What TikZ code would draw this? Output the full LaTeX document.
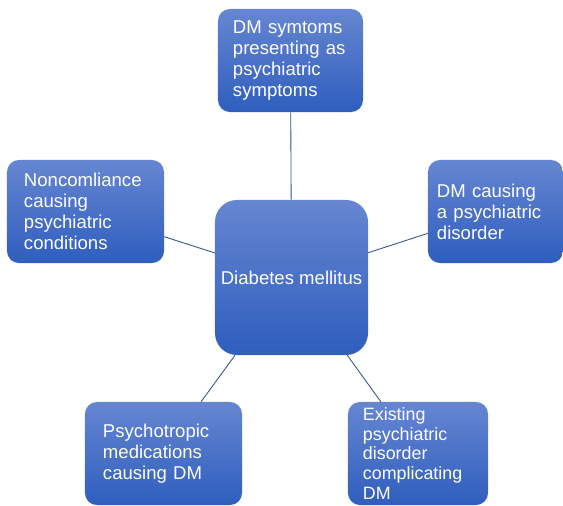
\documentclass[tikz,border=0pt]{standalone}
\usepackage{fontspec}
\setmainfont{Liberation Sans}
\usepackage{xcolor}
\usetikzlibrary{positioning}
\definecolor{boxtop}{HTML}{6686D1}
\definecolor{boxbot}{HTML}{2F5EBE}
\definecolor{linkblue}{HTML}{2E4E8E}

\begin{document}
\begin{tikzpicture}[
  x=0.025cm, y=-0.025cm,
  every node/.style={font=\fontsize{13.2}{15}\selectfont},
  box/.style ={rounded corners=0.3cm, top color=boxtop, bottom color=boxbot,
               draw=none, text=white, align=left, inner sep=0pt,
               minimum height=2.575cm},
  hub/.style ={box, rounded corners=0.55cm,
               minimum width=3.825cm, minimum height=3.875cm},
  link/.style={draw=linkblue, line width=0.6pt}
]
\useasboundingbox (0,0) rectangle (563,505);

%% ─── centre ────────────────────────────────────────────────────────────────
\node[hub] (dm) at (291.5,277.5) {Diabetes mellitus};

%% ─── outer boxes ───────────────────────────────────────────────────────────
\node[box,text width=2.875cm,inner xsep=0.375cm] (sym) at (290.5,60.5)
  {DM symtoms\\presenting as\\psychiatric\\symptoms};
\node[box,text width=3.075cm,inner xsep=0.425cm] (non) at (85.5,211.5)
  {Noncomliance\\causing\\psychiatric\\conditions};
\node[box,text width=2.925cm,inner xsep=0.225cm] (cau) at (495.5,211.5)
  {DM causing\\a psychiatric\\disorder};
\node[box,text width=3.025cm,inner xsep=0.45cm]  (med) at (163.5,453.5)
  {Psychotropic\\medications\\causing DM};
\node[box,text width=2.75cm,inner xsep=0.375cm,
      font=\fontsize{12.7}{14}\selectfont]       (exi) at (418,453.5)
  {Existing\\psychiatric\\disorder\\complicating\\DM};

\foreach \b in {sym, non, cau, med, exi}
  \draw[link] (dm)--(\b);

\end{tikzpicture}
\end{document}
